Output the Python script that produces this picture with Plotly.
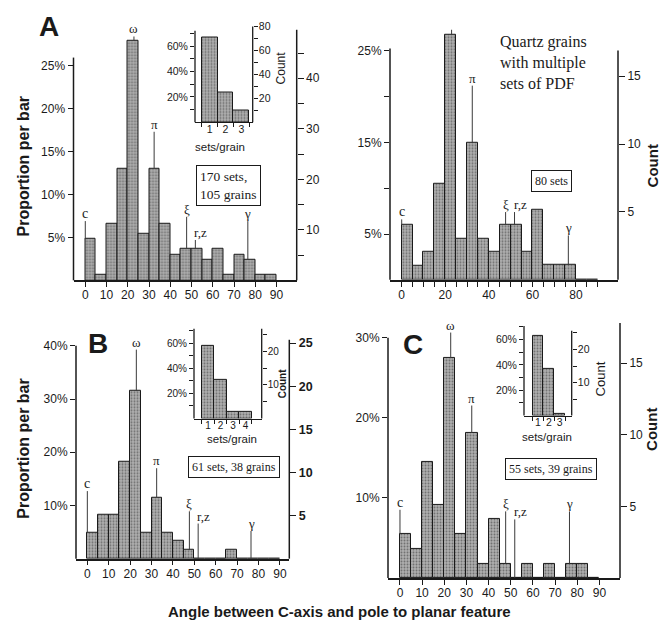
import plotly.graph_objects as go

W, H = 663, 625

# ---------------- data ----------------
bin_starts = list(range(0, 90, 5))          # 5-degree bins, 0..90
bin_width = 5

pct_A = [4.8, 0.6, 6.6, 13.0, 27.9, 5.45, 13.0, 6.6, 3.0, 3.65, 3.65, 2.45, 3.65, 0.6, 3.0, 2.45, 0.6, 0.6]
pct_multi = [6.05, 1.5, 3.1, 10.5, 26.8, 4.5, 15.0, 4.5, 3.1, 6.05, 6.05, 3.1, 7.7, 1.6, 1.6, 1.6, 0, 0]
pct_B = [4.9, 8.2, 8.2, 18.2, 31.5, 4.9, 11.5, 4.9, 3.3, 1.6, 0, 0, 0, 1.6, 0, 0, 0, 0]
pct_C = [5.45, 3.64, 14.5, 9.1, 27.4, 5.45, 18.1, 1.8, 7.3, 1.8, 0, 1.8, 0, 1.8, 0, 1.8, 1.8, 0]

sets_A = [1, 2, 3]
grains_pct_A = [66.9, 23.4, 9.6]
sets_B = [1, 2, 3, 4]
grains_pct_B = [58, 31, 5, 5]
sets_C = [1, 2, 3]
grains_pct_C = [63, 37, 1.5]

form_names = ["c", "ω", "π", "ξ", "r,z", "γ"]
form_angles = [0, 22.9, 32.4, 47.7, 51.8, 76.5]

box_texts = ["170 sets,<br>105 grains", "80 sets", "61 sets, 38 grains", "55 sets, 39 grains"]

# ---------------- styling ----------------
INK = "#1a1a1a"
SANS = "Liberation Sans, Arial, sans-serif"
SERIF = "Liberation Serif, Times New Roman, serif"
BAR_MARKER = dict(color="#a8a8a8", line=dict(color=INK, width=1),
                  pattern=dict(shape=".", fgcolor="#2e2e2e", bgcolor="#b0b0b0",
                               size=3, solidity=0.35))


def px(x):
    return x / W


def py(y):
    return 1 - y / H


def ref(letter, i):
    return letter + ("" if i == 1 else str(i))


def axname(letter, i):
    return letter + "axis" + ("" if i == 1 else str(i))


fig = go.Figure()
layout = {}
shapes = []
annotations = []


def register_axis(xi, yi):
    # empty trace so that the overlaying count axis gets drawn
    fig.add_trace(go.Scatter(x=[], y=[], xaxis=ref("x", xi), yaxis=ref("y", yi),
                             mode="markers", hoverinfo="skip", showlegend=False))


def vline_shapes(xi, yi, lfrac, rfrac, width=1.5):
    xr_, yr_ = ref("x", xi) + " domain", ref("y", yi) + " domain"
    shapes.append(dict(type="line", xref=xr_, yref=yr_, x0=0, x1=0, y0=0, y1=lfrac,
                       line=dict(color=INK, width=width), layer="above"))
    shapes.append(dict(type="line", xref=xr_, yref=yr_, x0=1, x1=1, y0=0, y1=rfrac,
                       line=dict(color=INK, width=width), layer="above"))


def main_panel(xi, yl, yc, pct, xd, yd, xr, ytop, cf, lfrac, rfrac,
               xtv, xminor, ltv, lminor, ctv, cminor, form_tops, cbold=False):
    centers = [s + bin_width / 2 for s in bin_starts]
    fig.add_trace(go.Bar(x=centers, y=pct, width=bin_width, marker=BAR_MARKER,
                         xaxis=ref("x", xi), yaxis=ref("y", yl), hoverinfo="skip"))
    register_axis(xi, yc)
    tickfont = dict(family=SANS, size=12, color=INK)
    xa = dict(
        domain=[px(xd[0]), px(xd[1])], range=list(xr), anchor=ref("y", yl),
        showline=True, linecolor=INK, linewidth=1.5, ticks="outside", ticklen=5,
        tickwidth=1.2, tickcolor=INK, tickmode="array", tickvals=xtv,
        ticktext=[str(v) for v in xtv], tickfont=tickfont, showgrid=False, zeroline=False,
        ticklabelstandoff=-2,
    )
    if xminor:
        xa["minor"] = dict(tickmode="array", tickvals=xminor, ticks="outside", ticklen=5,
                           tickwidth=1.2, tickcolor=INK)
    layout[axname("x", xi)] = xa
    layout[axname("y", yl)] = dict(
        domain=[py(yd[0]), py(yd[1])], range=[0, ytop], anchor=ref("x", xi), side="left",
        showline=False, ticks="outside", ticklen=5, tickwidth=1.2, tickcolor=INK,
        tickmode="array", tickvals=ltv, ticktext=[f"{v}%" for v in ltv], tickfont=tickfont,
        showgrid=False, zeroline=False,
        minor=dict(tickmode="array", tickvals=lminor, ticks="outside", ticklen=5,
                   tickwidth=1.2, tickcolor=INK),
    )
    cfont = dict(family=SANS, size=12.5 if cbold else 12, color=INK,
                 weight="bold" if cbold else "normal")
    layout[axname("y", yc)] = dict(
        overlaying=ref("y", yl), anchor=ref("x", xi), side="right", range=[0, ytop * cf],
        showline=False, ticks="outside", ticklen=6, tickwidth=1.2, tickcolor=INK,
        tickmode="array", tickvals=ctv, ticktext=[str(v) for v in ctv], tickfont=cfont,
        showgrid=False, zeroline=False,
        minor=dict(tickmode="array", tickvals=cminor, ticks="outside", ticklen=6,
                   tickwidth=1.2, tickcolor=INK),
    )
    vline_shapes(xi, yl, lfrac, rfrac)
    # crystallographic form markers
    for name, ang, top in zip(form_names, form_angles, form_tops):
        idx = int(ang // bin_width)
        base = pct[idx] if idx < len(pct) else 0
        shapes.append(dict(type="line", xref=ref("x", xi), yref=ref("y", yl),
                           x0=ang, x1=ang, y0=base, y1=top,
                           line=dict(color="#3a3a3a", width=1), layer="above"))
        left = name == "r,z"
        annotations.append(dict(text=name, x=ang, y=top, xref=ref("x", xi), yref=ref("y", yl),
                                xanchor="left" if left else "center", xshift=-3 if left else 0,
                                yanchor="bottom", showarrow=False, yshift=-2,
                                font=dict(family=SERIF, size=14 if name == "c" else 13,
                                          color=INK)))


def inset_panel(xi, yl, yc, cats, vals, xd, yd, xr, ytop, cf, lfrac, rfrac,
                ctv, cminor, fsize=10.5):
    fig.add_trace(go.Bar(x=cats, y=vals, width=1, marker=BAR_MARKER,
                         xaxis=ref("x", xi), yaxis=ref("y", yl), hoverinfo="skip"))
    register_axis(xi, yc)
    tf = dict(family=SANS, size=fsize, color=INK)
    edges = [c - 0.5 for c in cats] + [cats[-1] + 0.5]
    layout[axname("x", xi)] = dict(
        domain=[px(xd[0]), px(xd[1])], range=list(xr), anchor=ref("y", yl),
        showline=True, linecolor=INK, linewidth=1.3, ticks="", tickmode="array",
        tickvals=cats, ticktext=[str(c) for c in cats], tickfont=tf, showgrid=False,
        zeroline=False, ticklabelstandoff=-3,
        minor=dict(tickmode="array", tickvals=edges, ticks="outside", ticklen=4,
                   tickwidth=1, tickcolor=INK),
    )
    ltv = [20, 40, 60]
    layout[axname("y", yl)] = dict(
        domain=[py(yd[0]), py(yd[1])], range=[0, ytop], anchor=ref("x", xi), side="left",
        showline=False, ticks="outside", ticklen=4, tickwidth=1, tickcolor=INK,
        tickmode="array", tickvals=ltv, ticktext=[f"{v}%" for v in ltv], tickfont=tf,
        showgrid=False, zeroline=False,
        minor=dict(tickmode="array", tickvals=[10, 30, 50, 70], ticks="outside",
                   ticklen=4, tickwidth=1, tickcolor=INK),
    )
    layout[axname("y", yc)] = dict(
        overlaying=ref("y", yl), anchor=ref("x", xi), side="right", range=[0, ytop * cf],
        showline=False, ticks="outside", ticklen=4, tickwidth=1, tickcolor=INK,
        tickmode="array", tickvals=ctv, ticktext=[str(v) for v in ctv], tickfont=tf,
        showgrid=False, zeroline=False, ticklabelstandoff=-1,
        minor=dict(tickmode="array", tickvals=cminor, ticks="outside", ticklen=4,
                   tickwidth=1, tickcolor=INK),
    )
    vline_shapes(xi, yl, lfrac, rfrac, width=1.3)


tens = list(range(0, 100, 10))

# Panel A (top-left)
main_panel(1, 1, 2, pct_A, (73.5, 296.7), (277, 24), (-5.55, 99.5), 29.18, 1.7, 0.889, 1.0,
           tens, None, [5, 10, 15, 20, 25], [], [10, 20, 30, 40], [5, 15, 25, 35, 45],
           [6.9, 28.4, 17.3, 7.4, 4.7, 6.9])
# Top-right: grains with multiple sets
main_panel(2, 3, 4, pct_multi, (390, 618), (276.5, 24), (-5.37, 99.3), 27.3, 0.675, 0.925, 0.917,
           [0, 20, 40, 60, 80], [v for v in range(5, 95, 5) if v % 20], [5, 15, 25], [10, 20],
           [5, 10, 15], [], [6.6, 28.1, 21.2, 7.4, 7.4, 4.85])
# Panel B
main_panel(3, 5, 6, pct_B, (76, 289.3), (558, 337), (-5.3, 94.4), 41.15, 0.617, 0.973, 1.0,
           tens, None, [10, 20, 30, 40], [], [5, 10, 15, 20, 25], [],
           [12.7, 39.3, 17.0, 8.9, 6.6, 5.2], cbold=True)
# Panel C
main_panel(4, 7, 8, pct_C, (388, 620), (577.5, 320), (-5.4, 99.3), 31.8, 0.56, 0.942, 1.0,
           tens, None, [10, 20, 30], [], [5, 10, 15], [],
           [8.5, 30.6, 21.5, 8.3, 7.3, 8.3])

# Insets
inset_panel(5, 9, 10, sets_A, grains_pct_A, (195, 252.7), (117.3, 20.7), (0.08, 3.71), 75.5, 1.06,
            0.955, 1.0, [20, 40, 60, 80], [10, 30, 50, 70])
inset_panel(6, 11, 12, sets_B, grains_pct_B, (194, 261.7), (416.5, 326), (-0.12, 5.3), 71.3, 0.375,
            1.0, 1.0, [10, 20], [5, 15, 25], fsize=10)
inset_panel(7, 13, 14, sets_C, grains_pct_C, (524, 571.7), (413.5, 323), (-0.3, 4.12), 70.7, 0.384,
            1.0, 0.945, [10, 20], [5, 15, 25])


def pann(text, x, y, size, family=SANS, bold=False, angle=0, xanchor="center",
         yanchor="middle", align="center", box=False):
    a = dict(text=f"<b>{text}</b>" if bold else text, x=px(x), y=py(y), xref="paper",
             yref="paper", xanchor=xanchor, yanchor=yanchor, showarrow=False, textangle=angle,
             align=align, font=dict(family=family, size=size, color=INK))
    if box:
        a.update(bordercolor=INK, borderwidth=1, borderpad=3, bgcolor="white")
    annotations.append(a)


# panel letters
pann("A", 49, 21, 28, bold=True)
pann("B", 98, 341, 28, bold=True)
pann("C", 413, 342, 28, bold=True)

# axis titles
pann("Proportion per bar", 23, 162, 16, bold=True, angle=-90)
pann("Proportion per bar", 24, 447, 16, bold=True, angle=-90)
pann("Count", 652, 162, 15, bold=True, angle=-90)
pann("Count", 652, 428, 15, bold=True, angle=-90)
pann("Angle between C-axis and pole to planar feature", 340, 611, 15, bold=True)

# inset titles
pann("Count", 281, 63, 12, angle=-90)
pann("Count", 282, 381, 10, bold=True, angle=-90)
pann("Count", 600, 377, 13, angle=-90)
pann("sets/grain", 220, 142, 11.5)
pann("sets/grain", 232, 437, 11.5)
pann("sets/grain", 547, 435, 11.5)

# sample boxes
pann(box_texts[0], 228.5, 181, 13.5, family=SERIF, align="left", box=True)
pann(box_texts[1], 551.5, 177, 12, family=SERIF, box=True)
pann(box_texts[2], 234, 465, 12, family=SERIF, box=True)
pann(box_texts[3], 550.5, 467, 12, family=SERIF, box=True)

pann("Quartz grains<br>with multiple<br>sets of PDF", 498, 57, 16, family=SERIF,
     xanchor="left", align="left")

fig.update_layout(
    width=W, height=H, margin=dict(l=0, r=0, t=0, b=0), showlegend=False,
    paper_bgcolor="white", plot_bgcolor="rgba(0,0,0,0)", bargap=0,
    shapes=shapes, annotations=annotations, **layout,
)

# remove the browser's default page margin so the figure fills the window exactly
fig.write_html("out.html", config={"displayModeBar": False},
               post_script="document.body.style.margin='0';")
